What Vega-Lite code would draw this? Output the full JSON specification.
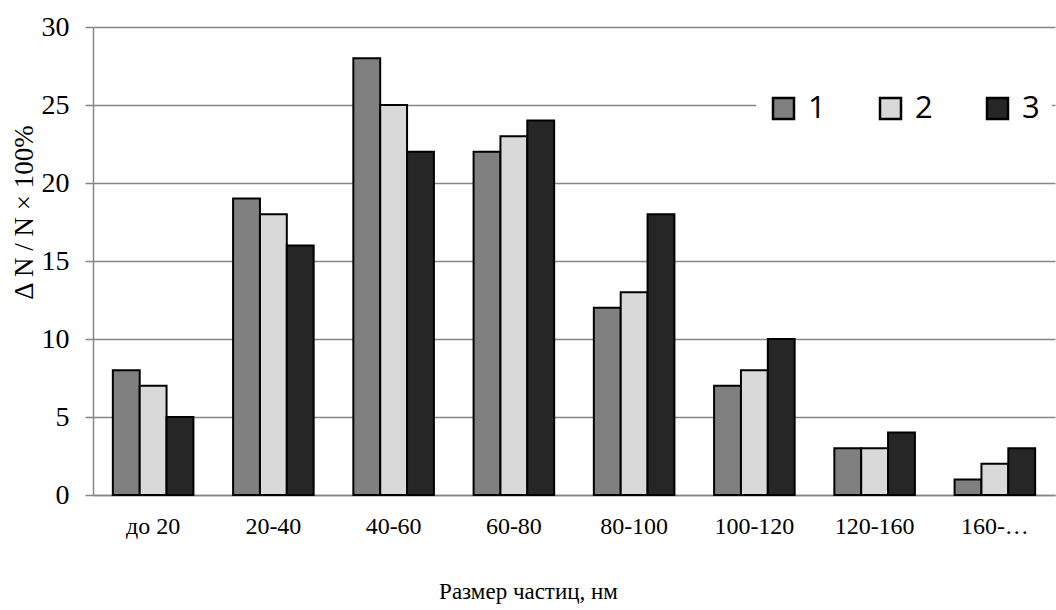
{
  "$schema": "https://vega.github.io/schema/vega-lite/v6.json",
  "autosize": "none",
  "width": 962,
  "height": 468,
  "padding": {"left": 93, "top": 27, "right": 1, "bottom": 115},
  "background": "white",
  "config": {"view": {"stroke": null}},
  "data": {
    "values": [
      {"size": "до 20", "series": "1", "value": 8},
      {"size": "до 20", "series": "2", "value": 7},
      {"size": "до 20", "series": "3", "value": 5},
      {"size": "20-40", "series": "1", "value": 19},
      {"size": "20-40", "series": "2", "value": 18},
      {"size": "20-40", "series": "3", "value": 16},
      {"size": "40-60", "series": "1", "value": 28},
      {"size": "40-60", "series": "2", "value": 25},
      {"size": "40-60", "series": "3", "value": 22},
      {"size": "60-80", "series": "1", "value": 22},
      {"size": "60-80", "series": "2", "value": 23},
      {"size": "60-80", "series": "3", "value": 24},
      {"size": "80-100", "series": "1", "value": 12},
      {"size": "80-100", "series": "2", "value": 13},
      {"size": "80-100", "series": "3", "value": 18},
      {"size": "100-120", "series": "1", "value": 7},
      {"size": "100-120", "series": "2", "value": 8},
      {"size": "100-120", "series": "3", "value": 10},
      {"size": "120-160", "series": "1", "value": 3},
      {"size": "120-160", "series": "2", "value": 3},
      {"size": "120-160", "series": "3", "value": 4},
      {"size": "160-…", "series": "1", "value": 1},
      {"size": "160-…", "series": "2", "value": 2},
      {"size": "160-…", "series": "3", "value": 3}
    ]
  },
  "mark": {"type": "bar", "stroke": "black", "strokeWidth": 2},
  "encoding": {
    "x": {
      "field": "size",
      "type": "nominal",
      "sort": null,
      "scale": {"paddingInner": 0.33, "paddingOuter": 0.165},
      "axis": {
        "title": "Размер частиц, нм",
        "labelAngle": 0,
        "ticks": false,
        "labelPadding": 19,
        "labelFont": "Times New Roman",
        "labelFontSize": 24,
        "labelColor": "black",
        "titleFont": "Times New Roman",
        "titleFontSize": 23,
        "titleFontWeight": "normal",
        "titleColor": "black",
        "titleBaseline": "middle",
        "titleAlign": "center",
        "titleX": 435,
        "titleY": 96,
        "domainColor": "#868686",
        "domainWidth": 1.5
      }
    },
    "xOffset": {"field": "series", "type": "nominal", "scale": {"paddingInner": 0, "paddingOuter": 0}},
    "y": {
      "field": "value",
      "type": "quantitative",
      "scale": {"domain": [0, 30], "nice": false},
      "axis": {
        "title": "Δ N / N × 100%",
        "values": [0, 5, 10, 15, 20, 25, 30],
        "tickSize": 8,
        "tickColor": "#868686",
        "tickWidth": 1.5,
        "labelPadding": 16,
        "labelFont": "Times New Roman",
        "labelFontSize": 28,
        "labelColor": "black",
        "titleFont": "Times New Roman",
        "titleFontSize": 27,
        "titleFontWeight": "normal",
        "titleColor": "black",
        "titleBaseline": "middle",
        "titleAlign": "center",
        "titleAngle": -90,
        "titleX": -69,
        "titleY": 185,
        "gridColor": "#868686",
        "gridWidth": 1.5,
        "domainColor": "#868686",
        "domainWidth": 1.5
      }
    },
    "fill": {
      "field": "series",
      "type": "nominal",
      "scale": {"domain": ["1", "2", "3"], "range": ["#808080", "#d9d9d9", "#262626"]},
      "legend": {
        "title": null,
        "orient": "none",
        "legendX": 663,
        "legendY": 54,
        "direction": "horizontal",
        "fillColor": "white",
        "padding": 12,
        "symbolType": "square",
        "symbolSize": 441,
        "symbolStrokeColor": "black",
        "symbolStrokeWidth": 2.5,
        "labelFont": "Open Sans",
        "labelFontSize": 31,
        "labelColor": "black",
        "labelOffset": 9,
        "columnPadding": 49
      }
    }
  }
}
